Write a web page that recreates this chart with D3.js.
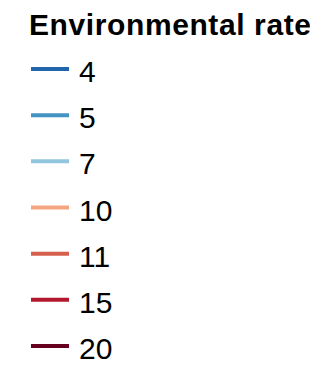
<!DOCTYPE html>
<html>
<head>
<meta charset="utf-8">
<script src="https://cdn.jsdelivr.net/npm/d3@7"></script>
<style>
  body { margin: 0; background: #fff; }
  text { font-family: "Liberation Sans", Arial, Helvetica, sans-serif; }
</style>
</head>
<body>
<script>
const w = 310; // width
const h = 369; // height

// legend data
const title = "Environmental rate";
const rates = [4, 5, 7, 10, 11, 15, 20];
const colors = ["#2166ac", "#4393c3", "#92c5de", "#f4a582", "#d6604d", "#b2182b", "#67001f"];

let svg = d3.select("body")
    .append("svg")
    .attr('width', w)
    .attr('height', h);

// colour scale
let color = d3.scaleOrdinal()
    .domain(rates)
    .range(colors);

// vertical position of each entry
let y = d3.scalePoint()
    .domain(rates)
    .range([69, 346]);

// title
svg.append("text")
    .attr("x", 29)
    .attr("y", 35)
    .attr("font-size", 30)
    .attr("font-weight", "bold")
    .attr("letter-spacing", 0.6)
    .text(title);

let entry = svg.selectAll("g.entry")
    .data(rates)
    .enter()
    .append("g")
    .attr("class", "entry")
    .attr("transform", (d) => `translate(0,${y(d)})`);

entry.append("line")
    .attr("x1", 31)
    .attr("x2", 69)
    .attr("stroke", (d) => color(d))
    .attr("stroke-width", 4);

entry.append("text")
    .attr("x", 79)
    .attr("y", 13)
    .attr("font-size", 30)
    .text((d) => d);
</script>
</body>
</html>
